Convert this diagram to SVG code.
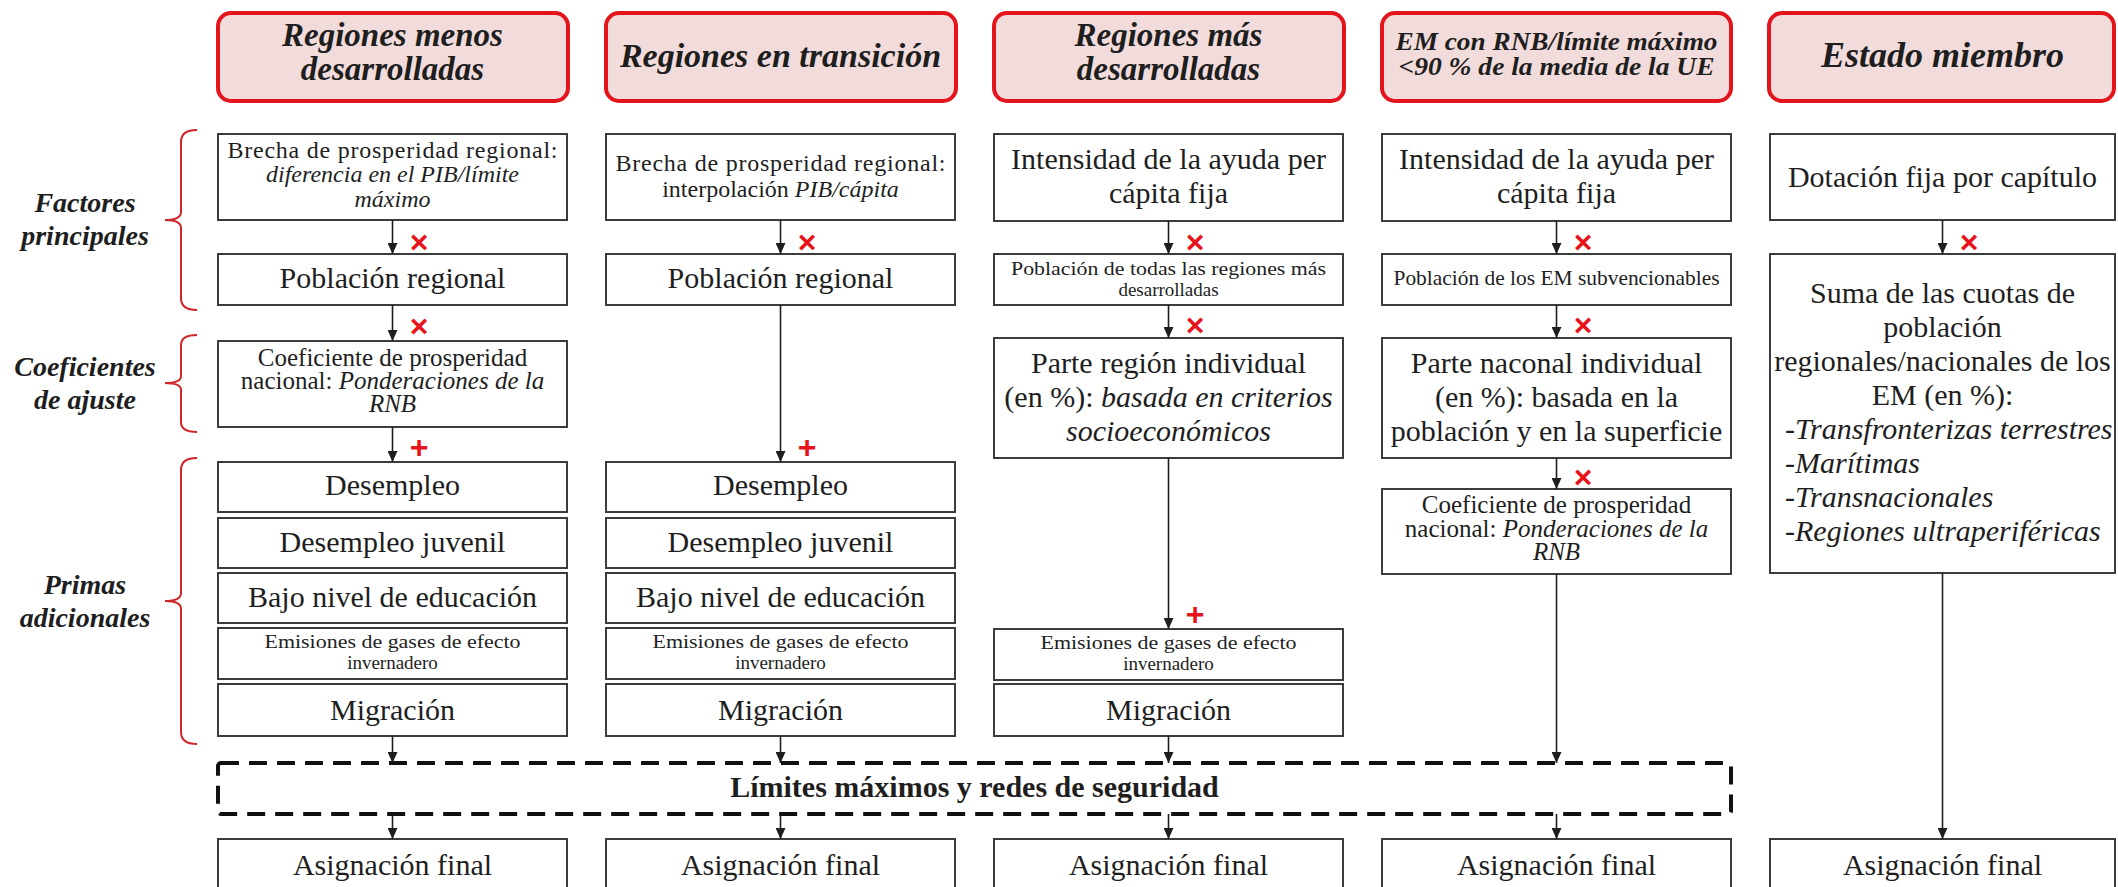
<svg xmlns="http://www.w3.org/2000/svg" width="2118" height="887" viewBox="0 0 2118 887">
<defs>
<marker id="ah" markerUnits="userSpaceOnUse" markerWidth="10" markerHeight="11" refX="5" refY="11" orient="0" viewBox="0 0 10 11">
<path d="M0,0 L10,0 L5,11 z" fill="#1e1e1e"/>
</marker>
<style>
.hdr{fill:#f2dcdb;stroke:#e3141b;stroke-width:4}
.box{fill:#fff;stroke:#3c3c3c;stroke-width:2}
text{font-family:"Liberation Serif",serif;fill:#1e1e1e;text-anchor:middle}
.L{font-size:30px}
.M{font-size:25px}
.M2{font-size:24px}
.S{font-size:21.5px}
.E{font-size:19px}
.h{font-size:33px;font-weight:bold;font-style:italic}
.lab{font-size:28px;font-weight:bold;font-style:italic}
.it{font-style:italic}
.lt{text-anchor:start}
.mk{font-family:"Liberation Sans",sans-serif;font-weight:bold;fill:#e8141b;font-size:32px}
.cn{stroke:#1e1e1e;stroke-width:1.6;fill:none;marker-end:url(#ah)}
.br{stroke:#d0262b;stroke-width:2;fill:none}
.dash{fill:none;stroke:#111;stroke-width:4;stroke-dasharray:18 10}
</style>
</defs>
<rect width="2118" height="887" fill="#fff"/>

<g id="labels">
<path class="br" d="M197,130 Q181,130 181,142 L181,212 Q181,220 165,220 Q181,220 181,228 L181,298 Q181,310 197,310"/>
<path class="br" d="M197,335 Q181,335 181,345 L181,376 Q181,383 165,383 Q181,383 181,390 L181,422 Q181,432 197,432"/>
<path class="br" d="M197,458 Q181,458 181,470 L181,593 Q181,601 165,601 Q181,601 181,609 L181,732 Q181,744 197,744"/>
<text class="lab" x="85" y="212">Factores</text>
<text class="lab" x="85" y="245">principales</text>
<text class="lab" x="85" y="376">Coeficientes</text>
<text class="lab" x="85" y="409">de ajuste</text>
<text class="lab" x="85" y="594">Primas</text>
<text class="lab" x="85" y="627">adicionales</text>
</g>

<g id="col1">
<rect class="hdr" x="218" y="13" width="350" height="88" rx="13"/>
<text class="h" x="392.5" y="46">Regiones menos</text>
<text class="h" x="392.5" y="80">desarrolladas</text>
<rect class="box" x="218" y="134" width="349" height="86"/>
<text class="M2" x="392.5" y="158" textLength="330" lengthAdjust="spacing">Brecha de prosperidad regional:</text>
<text class="M2 it" x="392.5" y="182">diferencia en el PIB/límite</text>
<text class="M2 it" x="392.5" y="207">máximo</text>
<rect class="box" x="218" y="254" width="349" height="51"/>
<text class="L" x="392.5" y="288">Población regional</text>
<rect class="box" x="218" y="341" width="349" height="86"/>
<text class="M" x="392.5" y="366">Coeficiente de prosperidad</text>
<text class="M" x="392.5" y="389">nacional: <tspan class="it">Ponderaciones de la</tspan></text>
<text class="M it" x="392.5" y="412">RNB</text>
<rect class="box" x="218" y="462" width="349" height="50"/>
<text class="L" x="392.5" y="495">Desempleo</text>
<rect class="box" x="218" y="518" width="349" height="50"/>
<text class="L" x="392.5" y="552">Desempleo juvenil</text>
<rect class="box" x="218" y="573" width="349" height="50"/>
<text class="L" x="392.5" y="607">Bajo nivel de educación</text>
<rect class="box" x="218" y="628" width="349" height="51"/>
<text class="E" x="392.5" y="648" textLength="256" lengthAdjust="spacingAndGlyphs">Emisiones de gases de efecto</text>
<text class="E" x="392.5" y="669">invernadero</text>
<rect class="box" x="218" y="684" width="349" height="52"/>
<text class="L" x="392.5" y="720">Migración</text>
<rect class="box" x="218" y="839" width="349" height="60"/>
<text class="L" x="392.5" y="875">Asignación final</text>
</g>

<g id="col2">
<rect class="hdr" x="606" y="13" width="350" height="88" rx="13"/>
<text class="h" x="780.5" y="67" style="font-size:34px">Regiones en transición</text>
<rect class="box" x="606" y="134" width="349" height="86"/>
<text class="M2" x="780.5" y="171" textLength="330" lengthAdjust="spacing">Brecha de prosperidad regional:</text>
<text class="M2" x="780.5" y="197">interpolación <tspan class="it">PIB/cápita</tspan></text>
<rect class="box" x="606" y="254" width="349" height="51"/>
<text class="L" x="780.5" y="288">Población regional</text>
<rect class="box" x="606" y="462" width="349" height="50"/>
<text class="L" x="780.5" y="495">Desempleo</text>
<rect class="box" x="606" y="518" width="349" height="50"/>
<text class="L" x="780.5" y="552">Desempleo juvenil</text>
<rect class="box" x="606" y="573" width="349" height="50"/>
<text class="L" x="780.5" y="607">Bajo nivel de educación</text>
<rect class="box" x="606" y="628" width="349" height="51"/>
<text class="E" x="780.5" y="648" textLength="256" lengthAdjust="spacingAndGlyphs">Emisiones de gases de efecto</text>
<text class="E" x="780.5" y="669">invernadero</text>
<rect class="box" x="606" y="684" width="349" height="52"/>
<text class="L" x="780.5" y="720">Migración</text>
<rect class="box" x="606" y="839" width="349" height="60"/>
<text class="L" x="780.5" y="875">Asignación final</text>
</g>

<g id="col3">
<rect class="hdr" x="994" y="13" width="350" height="88" rx="13"/>
<text class="h" x="1168.5" y="46">Regiones más</text>
<text class="h" x="1168.5" y="80">desarrolladas</text>
<rect class="box" x="994" y="134" width="349" height="87"/>
<text class="L" x="1168.5" y="169">Intensidad de la ayuda per</text>
<text class="L" x="1168.5" y="203">cápita fija</text>
<rect class="box" x="994" y="254" width="349" height="51"/>
<text class="E" x="1168.5" y="275" textLength="315" lengthAdjust="spacingAndGlyphs">Población de todas las regiones más</text>
<text class="E" x="1168.5" y="296">desarrolladas</text>
<rect class="box" x="994" y="338" width="349" height="120"/>
<text class="L" x="1168.5" y="373">Parte región individual</text>
<text class="L" x="1168.5" y="407">(en %): <tspan class="it">basada en criterios</tspan></text>
<text class="L it" x="1168.5" y="441">socioeconómicos</text>
<rect class="box" x="994" y="629" width="349" height="51"/>
<text class="E" x="1168.5" y="649" textLength="256" lengthAdjust="spacingAndGlyphs">Emisiones de gases de efecto</text>
<text class="E" x="1168.5" y="670">invernadero</text>
<rect class="box" x="994" y="684" width="349" height="52"/>
<text class="L" x="1168.5" y="720">Migración</text>
<rect class="box" x="994" y="839" width="349" height="60"/>
<text class="L" x="1168.5" y="875">Asignación final</text>
</g>

<g id="col4">
<rect class="hdr" x="1382" y="13" width="349" height="88" rx="13"/>
<text class="h" x="1556.5" y="50" style="font-size:26px" textLength="322" lengthAdjust="spacingAndGlyphs">EM con RNB/límite máximo</text>
<text class="h" x="1556.5" y="75" style="font-size:26px" textLength="316" lengthAdjust="spacingAndGlyphs">&lt;90 % de la media de la UE</text>
<rect class="box" x="1382" y="134" width="349" height="87"/>
<text class="L" x="1556.5" y="169">Intensidad de la ayuda per</text>
<text class="L" x="1556.5" y="203">cápita fija</text>
<rect class="box" x="1382" y="254" width="349" height="51"/>
<text class="S" x="1556.5" y="285" textLength="326" lengthAdjust="spacingAndGlyphs">Población de los EM subvencionables</text>
<rect class="box" x="1382" y="338" width="349" height="120"/>
<text class="L" x="1556.5" y="373">Parte naconal individual</text>
<text class="L" x="1556.5" y="407">(en %): basada en la</text>
<text class="L" x="1556.5" y="441">población y en la superficie</text>
<rect class="box" x="1382" y="489" width="349" height="85"/>
<text class="M" x="1556.5" y="513">Coeficiente de prosperidad</text>
<text class="M" x="1556.5" y="537">nacional: <tspan class="it">Ponderaciones de la</tspan></text>
<text class="M it" x="1556.5" y="560">RNB</text>
<rect class="box" x="1382" y="839" width="349" height="60"/>
<text class="L" x="1556.5" y="875">Asignación final</text>
</g>

<g id="col5">
<rect class="hdr" x="1769" y="13" width="345" height="88" rx="13"/>
<text class="h" x="1942.5" y="67" style="font-size:36px">Estado miembro</text>
<rect class="box" x="1770" y="134" width="345" height="86"/>
<text class="L" x="1942.5" y="187">Dotación fija por capítulo</text>
<rect class="box" x="1770" y="254" width="345" height="319"/>
<text class="L" x="1942.5" y="303">Suma de las cuotas de</text>
<text class="L" x="1942.5" y="337">población</text>
<text class="L" x="1942.5" y="371">regionales/nacionales de los</text>
<text class="L" x="1942.5" y="405">EM (en %):</text>
<text class="L it lt" x="1785" y="439">-Transfronterizas terrestres</text>
<text class="L it lt" x="1785" y="473">-Marítimas</text>
<text class="L it lt" x="1785" y="507">-Transnacionales</text>
<text class="L it lt" x="1785" y="541">-Regiones ultraperiféricas</text>
<rect class="box" x="1770" y="839" width="345" height="60"/>
<text class="L" x="1942.5" y="875">Asignación final</text>
</g>

<g id="limits">
<rect class="dash" x="218" y="763" width="1513" height="51" rx="3"/>
<text x="974.5" y="797" style="font-size:30px;font-weight:bold">Límites máximos y redes de seguridad</text>
</g>

<g id="connectors">
<line class="cn" x1="392.5" y1="220" x2="392.5" y2="254"/>
<line class="cn" x1="392.5" y1="305" x2="392.5" y2="341"/>
<line class="cn" x1="392.5" y1="427" x2="392.5" y2="462"/>
<line class="cn" x1="392.5" y1="736" x2="392.5" y2="763"/>
<line class="cn" x1="392.5" y1="814" x2="392.5" y2="839"/>
<line class="cn" x1="780.5" y1="220" x2="780.5" y2="254"/>
<line class="cn" x1="780.5" y1="305" x2="780.5" y2="462"/>
<line class="cn" x1="780.5" y1="736" x2="780.5" y2="763"/>
<line class="cn" x1="780.5" y1="814" x2="780.5" y2="839"/>
<line class="cn" x1="1168.5" y1="221" x2="1168.5" y2="254"/>
<line class="cn" x1="1168.5" y1="305" x2="1168.5" y2="338"/>
<line class="cn" x1="1168.5" y1="458" x2="1168.5" y2="629"/>
<line class="cn" x1="1168.5" y1="736" x2="1168.5" y2="763"/>
<line class="cn" x1="1168.5" y1="814" x2="1168.5" y2="839"/>
<line class="cn" x1="1556.5" y1="221" x2="1556.5" y2="254"/>
<line class="cn" x1="1556.5" y1="305" x2="1556.5" y2="338"/>
<line class="cn" x1="1556.5" y1="458" x2="1556.5" y2="489"/>
<line class="cn" x1="1556.5" y1="574" x2="1556.5" y2="763"/>
<line class="cn" x1="1556.5" y1="814" x2="1556.5" y2="839"/>
<line class="cn" x1="1942.5" y1="220" x2="1942.5" y2="254"/>
<line class="cn" x1="1942.5" y1="573" x2="1942.5" y2="839"/>
<text class="mk" x="419" y="253">×</text>
<text class="mk" x="419" y="337">×</text>
<text class="mk" x="419" y="458">+</text>
<text class="mk" x="807" y="253">×</text>
<text class="mk" x="807" y="458">+</text>
<text class="mk" x="1195" y="253">×</text>
<text class="mk" x="1195" y="336">×</text>
<text class="mk" x="1195" y="625">+</text>
<text class="mk" x="1583" y="253">×</text>
<text class="mk" x="1583" y="336">×</text>
<text class="mk" x="1583" y="488">×</text>
<text class="mk" x="1969" y="253">×</text>
</g>
</svg>
